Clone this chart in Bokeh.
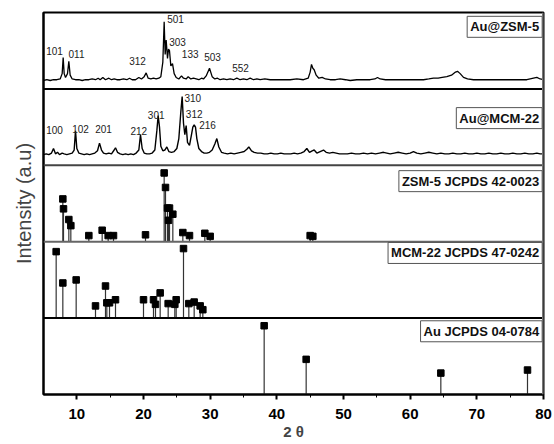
from bokeh.plotting import figure
from bokeh.models import Range1d, FixedTicker, Label, Span
from bokeh.embed import file_html
from bokeh.resources import INLINE

# ---------------- data ----------------
# Au@ZSM-5 measured pattern (panel units 0..1)
zsm_xrd_2theta = [5.0, 5.5, 6.0, 6.5, 7.0, 7.5, 7.8, 7.95, 8.1, 8.3, 8.6, 8.8, 9.0, 9.3, 9.8, 10.3, 10.8,
                  11.3, 11.8, 12.3, 12.8, 13.2, 13.5, 13.9, 14.3, 14.8, 15.2, 15.6, 16.0, 16.5, 17.0, 17.5,
                  17.9, 18.3, 18.8, 19.3, 19.7, 20.1, 20.4, 20.7, 21.1, 21.5, 21.9, 22.3, 22.6, 22.9, 23.1,
                  23.25, 23.4, 23.6, 23.75, 23.9, 24.1, 24.35, 24.6, 24.9, 25.3, 25.7, 26.0, 26.4, 26.7,
                  27.1, 27.5, 27.9, 28.3, 28.7, 29.0, 29.4, 29.9, 30.3, 30.7, 31.1, 31.5, 32.0, 32.5, 33.0,
                  33.5, 34.0, 34.5, 35.0, 35.5, 36.0, 36.5, 37.0, 37.5, 38.2, 39.0, 40.0, 41.0, 42.0, 43.0,
                  44.0, 44.7, 45.0, 45.2, 45.4, 45.6, 45.9, 46.3, 46.8, 47.3, 48.0, 48.8, 49.5, 50.3, 51.0,
                  52.0, 53.0, 54.0, 54.7, 55.1, 55.5, 56.3, 57.0, 58.0, 59.0, 60.0, 61.0, 62.0, 62.8, 63.5,
                  64.2, 64.8, 65.5, 66.2, 66.8, 67.1, 67.5, 68.0, 68.6, 69.5, 70.5, 71.5, 72.5, 73.5, 74.5,
                  75.5, 76.5, 77.5, 78.0, 78.5, 79.0, 79.5, 80.0]
zsm_xrd_int = [0.11, 0.12, 0.11, 0.12, 0.12, 0.13, 0.20, 0.41, 0.20, 0.15, 0.20, 0.36, 0.18, 0.13, 0.12, 0.12, 0.11,
               0.12, 0.12, 0.13, 0.12, 0.14, 0.12, 0.15, 0.12, 0.14, 0.12, 0.13, 0.12, 0.12, 0.13, 0.12,
               0.14, 0.12, 0.12, 0.15, 0.13, 0.16, 0.21, 0.14, 0.13, 0.14, 0.13, 0.14, 0.16, 0.35, 0.88,
               0.45, 0.64, 0.40, 0.52, 0.50, 0.30, 0.33, 0.20, 0.15, 0.13, 0.17, 0.14, 0.13, 0.16,
               0.13, 0.14, 0.13, 0.12, 0.14, 0.13, 0.17, 0.27, 0.16, 0.13, 0.14, 0.12, 0.13, 0.12, 0.13,
               0.12, 0.14, 0.12, 0.13, 0.12, 0.14, 0.12, 0.13, 0.12, 0.13, 0.12, 0.12, 0.12, 0.12, 0.13,
               0.12, 0.14, 0.22, 0.32, 0.27, 0.25, 0.18, 0.14, 0.15, 0.13, 0.12, 0.12, 0.13, 0.12, 0.11,
               0.12, 0.12, 0.12, 0.13, 0.15, 0.13, 0.12, 0.12, 0.12, 0.12, 0.12, 0.12, 0.12, 0.13, 0.14,
               0.14, 0.15, 0.16, 0.18, 0.22, 0.23, 0.20, 0.15, 0.13, 0.12, 0.12, 0.12, 0.12, 0.12, 0.12,
               0.12, 0.12, 0.12, 0.13, 0.14, 0.15, 0.13, 0.12]

# Au@MCM-22 measured pattern (panel units 0..1)
mcm_xrd_2theta = [5.0, 5.4, 5.8, 6.2, 6.5, 6.8, 7.1, 7.4, 7.8, 8.1, 8.5, 8.9, 9.3, 9.6, 9.8, 10.0, 10.3, 10.7,
                  11.1, 11.5, 11.9, 12.3, 12.7, 13.1, 13.4, 13.7, 14.0, 14.4, 14.8, 15.2, 15.6, 15.8, 16.1,
                  16.5, 16.9, 17.3, 17.7, 18.1, 18.5, 18.9, 19.3, 19.55, 19.8, 20.1, 20.5, 20.9, 21.3, 21.7,
                  22.0, 22.2, 22.4, 22.6, 22.9, 23.2, 23.5, 23.8, 24.2, 24.6, 25.0, 25.3, 25.6, 25.8, 26.0,
                  26.2, 26.4, 26.6, 26.9, 27.2, 27.4, 27.6, 27.8, 28.0, 28.3, 28.7, 29.1, 29.5, 29.9, 30.3,
                  30.7, 31.0, 31.3, 31.7, 32.1, 32.6, 33.1, 33.6, 34.1, 34.6, 35.1, 35.5, 35.8, 36.2, 36.6,
                  37.1, 37.6, 38.1, 38.6, 39.1, 39.6, 40.1, 40.6, 41.1, 41.6, 42.1, 42.6, 43.1, 43.6, 44.1,
                  44.5, 44.9, 45.3, 45.6, 46.0, 46.5, 47.0, 47.4, 47.9, 48.4, 48.9, 49.4, 50.0, 50.6, 51.2,
                  51.8, 52.4, 53.0, 53.6, 54.2, 54.8, 55.4, 56.0, 56.5, 57.0, 57.6, 58.2, 58.8, 59.4, 60.0,
                  60.5, 61.0, 61.6, 62.2, 62.8, 63.4, 64.0, 64.6, 65.2, 65.8, 66.4, 67.0, 67.6, 68.2, 68.8,
                  69.4, 70.0, 70.6, 71.2, 71.8, 72.4, 73.0, 73.6, 74.2, 74.8, 75.4, 76.0, 76.6, 77.2, 77.8,
                  78.4, 79.0, 79.5, 80.0]
mcm_xrd_int = [0.14, 0.15, 0.14, 0.16, 0.22, 0.15, 0.17, 0.14, 0.16, 0.15, 0.14, 0.15, 0.16, 0.20, 0.45, 0.22, 0.16, 0.15,
               0.14, 0.15, 0.14, 0.15, 0.16, 0.19, 0.29, 0.20, 0.16, 0.15, 0.16, 0.15, 0.20, 0.23, 0.17,
               0.15, 0.14, 0.15, 0.14, 0.15, 0.14, 0.16, 0.20, 0.40, 0.22, 0.16, 0.15, 0.15, 0.16, 0.20,
               0.45, 0.65, 0.50, 0.25, 0.19, 0.20, 0.24, 0.18, 0.17, 0.18, 0.22, 0.35, 0.70, 0.90, 0.55,
               0.40, 0.52, 0.30, 0.26, 0.40, 0.50, 0.53, 0.50, 0.35, 0.22, 0.18, 0.16, 0.16, 0.17, 0.20,
               0.28, 0.35, 0.24, 0.17, 0.16, 0.15, 0.16, 0.15, 0.16, 0.17, 0.18, 0.21, 0.24, 0.19, 0.17,
               0.16, 0.16, 0.15, 0.15, 0.16, 0.15, 0.15, 0.16, 0.15, 0.15, 0.15, 0.16, 0.15, 0.16, 0.18,
               0.22, 0.17, 0.19, 0.20, 0.16, 0.18, 0.20, 0.17, 0.16, 0.17, 0.16, 0.15, 0.15, 0.15, 0.16,
               0.15, 0.15, 0.16, 0.15, 0.16, 0.15, 0.16, 0.17, 0.16, 0.15, 0.16, 0.17, 0.16, 0.15, 0.16,
               0.18, 0.16, 0.15, 0.16, 0.17, 0.16, 0.15, 0.16, 0.15, 0.15, 0.16, 0.15, 0.15, 0.16, 0.15,
               0.15, 0.16, 0.15, 0.15, 0.16, 0.15, 0.15, 0.16, 0.15, 0.15, 0.16, 0.15, 0.15, 0.16, 0.15,
               0.15, 0.16, 0.15, 0.15]

# Reference stick patterns (panel units 0..1)
zsm_ref_2theta = [7.9, 8.0, 8.8, 9.1, 11.8, 13.8, 14.7, 15.5, 20.3, 23.1, 23.3, 23.6, 23.75, 23.9, 24.4,
                  25.9, 26.9, 29.2, 30.0, 45.0, 45.4]
zsm_ref_int = [0.56, 0.43, 0.29, 0.21, 0.08, 0.15, 0.08, 0.08, 0.09, 0.90, 0.71, 0.44, 0.28, 0.44, 0.36,
               0.12, 0.08, 0.11, 0.07, 0.08, 0.07]

mcm_ref_2theta = [6.9, 7.9, 9.9, 12.8, 14.3, 14.5, 14.9, 15.8, 20.0, 21.5, 21.8, 22.5, 23.7, 24.7, 24.9,
                  26.0, 26.8, 27.6, 28.5, 28.9]
mcm_ref_int = [0.87, 0.46, 0.50, 0.16, 0.42, 0.20, 0.20, 0.24, 0.24, 0.24, 0.18, 0.33, 0.19, 0.18, 0.24,
               0.91, 0.19, 0.21, 0.16, 0.11]

au_ref_2theta = [38.1, 44.4, 64.6, 77.6]
au_ref_int = [0.90, 0.46, 0.28, 0.32]

panel_names = ["Au@ZSM-5", "Au@MCM-22", "ZSM-5 JCPDS 42-0023", "MCM-22 JCPDS 47-0242", "Au JCPDS 04-0784"]

zsm_hkl = ["101", "011", "312", "501", "303", "133", "503", "552"]
mcm_hkl = ["100", "102", "201", "212", "301", "310", "312", "216"]

x_ticks = [10, 20, 30, 40, 50, 60, 70, 80]

# ---------------- layout ----------------
FONT = "Liberation Sans"
off = {"zsm": 4, "mcm": 3, "zsmref": 2, "mcmref": 1, "au": 0}

p = figure(width=554, height=444, output_backend="svg", toolbar_location=None,
           x_range=Range1d(5, 80), y_range=Range1d(0, 5),
           min_border_left=43, min_border_right=11, min_border_top=12, min_border_bottom=50)
p.xgrid.visible = False
p.ygrid.visible = False
p.outline_line_color = "black"
p.outline_line_width = 2
p.background_fill_color = "white"
p.border_fill_color = "white"

# x axis
p.xaxis.ticker = FixedTicker(ticks=x_ticks, minor_ticks=[15, 25, 35, 45, 55, 65, 75])
p.xaxis.major_tick_in = 0
p.xaxis.major_tick_out = 5
p.xaxis.minor_tick_in = 0
p.xaxis.minor_tick_out = 3
p.xaxis.major_tick_line_width = 2
p.xaxis.axis_line_width = 2
p.xaxis.major_label_standoff = 9
p.xaxis.major_label_text_font = FONT
p.xaxis.major_label_text_font_style = "bold"
p.xaxis.major_label_text_font_size = "15px"
p.xaxis.major_label_text_color = "black"
p.xaxis.axis_label = "2 θ"
p.xaxis.axis_label_text_font = FONT
p.xaxis.axis_label_text_font_style = "bold"
p.xaxis.axis_label_text_font_size = "15px"
p.xaxis.axis_label_standoff = 1

# y axis
p.yaxis.ticker = FixedTicker(ticks=[])
p.yaxis.axis_line_width = 2
p.yaxis.major_tick_line_color = None
p.yaxis.minor_tick_line_color = None
p.yaxis.axis_label = "Intensity (a.u)"
p.yaxis.axis_label_text_font = FONT
p.yaxis.axis_label_text_font_style = "normal"
p.yaxis.axis_label_text_font_size = "20px"
p.yaxis.axis_label_standoff = 9

# panel separators
for yv, col in [(4, "black"), (3, "#444444"), (2, "#666666"), (1, "black")]:
    p.add_layout(Span(location=yv, dimension="width", line_color=col, line_width=2))
p.add_layout(Span(location=80, dimension="height", line_color="#777777", line_width=3))

# measured patterns
p.line(zsm_xrd_2theta, [v + off["zsm"] for v in zsm_xrd_int], line_color="black", line_width=1.3)
p.line(mcm_xrd_2theta, [v + off["mcm"] for v in mcm_xrd_int], line_color="black", line_width=1.4)

# stick patterns
for xs, vs, o in [(zsm_ref_2theta, zsm_ref_int, off["zsmref"]),
                  (mcm_ref_2theta, mcm_ref_int, off["mcmref"]),
                  (au_ref_2theta, au_ref_int, off["au"])]:
    p.segment(x0=xs, y0=[o] * len(xs), x1=xs, y1=[v + o for v in vs], line_color="#333333", line_width=1.2)
    p.scatter(x=xs, y=[v + o for v in vs], marker="square", size=6.5, fill_color="black", line_color="black")

# hkl annotations (label anchor positions)
zsm_hkl_pos = [(6.65, 4.50), (9.95, 4.46), (19.1, 4.36), (24.8, 4.91), (25.1, 4.61), (27.0, 4.46), (30.35, 4.42), (34.55, 4.27)]
mcm_hkl_pos = [(6.65, 3.46), (10.55, 3.48), (14.0, 3.47), (19.3, 3.45), (21.9, 3.66), (27.4, 3.88), (27.6, 3.67), (29.6, 3.53)]
for txt, (xx, yy) in list(zip(zsm_hkl, zsm_hkl_pos)) + list(zip(mcm_hkl, mcm_hkl_pos)):
    p.add_layout(Label(x=xx, y=yy, text=txt, text_align="center", text_baseline="middle",
                       text_font=FONT, text_font_size="10px", text_color="#222222"))

# panel name boxes (top of box in data units)
box_tops = [4.95, 3.755, 2.93, 1.99, 0.965]
for name, top in zip(panel_names, box_tops):
    p.add_layout(Label(x=79.8, y=top, text=name, text_align="right", text_baseline="top",
                       text_font=FONT, text_font_style="bold", text_font_size="13px", text_color="#111111",
                       background_fill_color="white", border_line_color="#555555", border_line_width=1,
                       padding=3))

open("out.html", "w").write(file_html(p, INLINE))
